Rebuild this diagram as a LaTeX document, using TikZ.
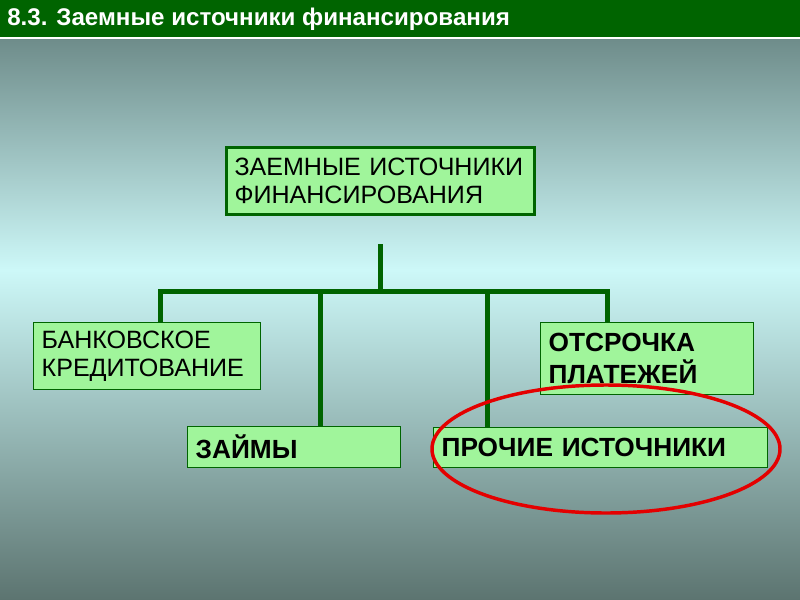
\documentclass[tikz,border=0pt]{standalone}
\usepackage{fontspec}
\setmainfont{Liberation Sans}
\usetikzlibrary{positioning}

\definecolor{bardark}{RGB}{0,100,0}
\definecolor{boxgreen}{RGB}{160,245,155}
\definecolor{linegreen}{RGB}{0,100,0}
\definecolor{bgtop}{RGB}{110,140,138}
\definecolor{bgmid}{RGB}{205,248,248}
\definecolor{bgbot}{RGB}{92,116,112}
\definecolor{ringred}{RGB}{228,0,0}

\tikzset{
  box/.style={draw=linegreen, fill=boxgreen, line width=1pt, anchor=north west,
    inner xsep=6pt, inner ysep=0pt, align=left,
    font=\fontsize{18.8}{21.5}\selectfont},
  boldbox/.style={box, font=\fontsize{19.7}{24}\selectfont\bfseries},
  headbox/.style={box, line width=2.25pt},
  bus/.style={draw=linegreen, line width=3.75pt, line join=miter},
}

\begin{document}
\begin{tikzpicture}[x=0.75pt, y=-0.75pt]
        \useasboundingbox (0,0) rectangle (800,600);
        % background
        \fill[top color=bgtop, bottom color=bgmid] (0,38) rectangle (800,270);
        \fill[top color=bgmid, bottom color=bgbot] (0,270) rectangle (800,600);
        \fill[bardark] (0,0) rectangle (800,37);
        \draw[white, line width=1.2pt] (0,37.8) -- (800,37.8);
        \node[anchor=west, text=white, inner sep=0pt,
          font=\fontsize{18.1}{19}\selectfont\bfseries] (title) at (7,19)
          {8.3. Заемные источники финансирования};

        % boxes
        \node[headbox, text width=219pt, minimum height=50.25pt] (head) at (225,146)
          {ЗАЕМНЫЕ ИСТОЧНИКИ\\ФИНАНСИРОВАНИЯ};
        \node[box, text width=158pt, minimum height=50.25pt] (bank) at (33,322)
          {БАНКОВСКОЕ\\КРЕДИТОВАНИЕ};
        \node[boldbox, text width=147.75pt, minimum height=30.75pt] (loans) at (187,426)
          {ЗАЙМЫ};
        \node[boldbox, text width=147.75pt, minimum height=54pt] (defer) at (540,322)
          {ОТСРОЧКА\\ПЛАТЕЖЕЙ};
        \node[boldbox, text width=238.5pt, minimum height=30pt] (other) at (433,427)
          {ПРОЧИЕ ИСТОЧНИКИ};

        % connectors
        \coordinate (stem) at (380,244);
        \coordinate (busL) at (160,291);
        \coordinate (busR) at (607,291);
        \coordinate (tapA) at (320,291);
        \coordinate (tapB) at (487,291);
        \draw[bus] (stem) -- (stem |- busL);
        \draw[bus] (busL |- bank.north) -- (busL) -- (busR) -- (busR |- defer.north);
        \draw[bus] (tapA) -- (tapA |- loans.north);
        \draw[bus] (tapB) -- (tapB |- other.north);

        % highlight
        \draw[ringred, line width=2.6pt] (606,449) ellipse [x radius=174, y radius=64];
        \end{tikzpicture}
\end{document}
